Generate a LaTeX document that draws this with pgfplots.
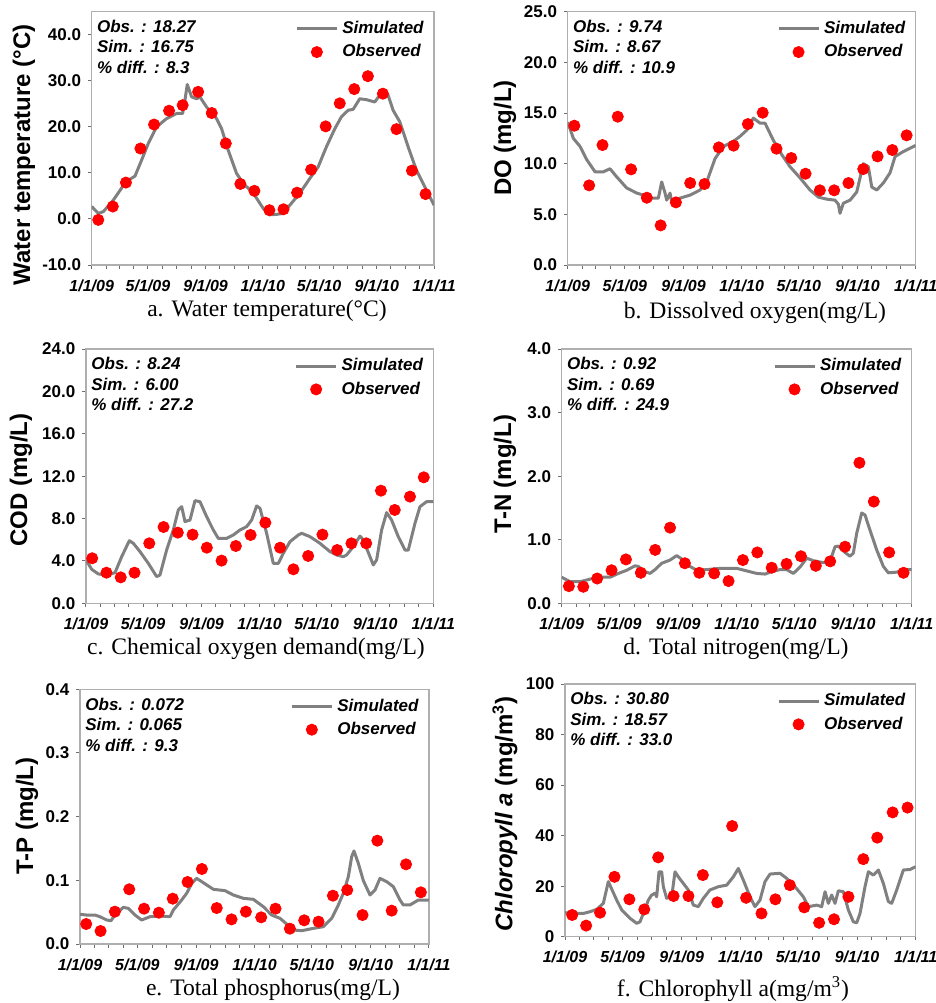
\documentclass[border=0pt]{standalone}
\usepackage{fontspec}
\setmainfont{Liberation Sans}
\newfontfamily\capfont{Liberation Serif}
\usepackage{pgfplots}
\pgfplotsset{compat=1.18}
\definecolor{simgray}{RGB}{128,128,128}
\definecolor{obsred}{RGB}{255,0,0}
\definecolor{framegray}{RGB}{175,175,175}
\definecolor{tickgray}{RGB}{110,110,110}

\tikzset{stats/.style={anchor=north west, align=left, inner sep=0pt,
    font=\fontsize{8.5}{10.25}\selectfont\bfseries\itshape, xshift=2.5pt, yshift=-4pt}}
\pgfplotsset{
  panel/.style={
    scale only axis, anchor=south west,
    xmin=0, xmax=730,
    xtick={0,120,243,365,485,608,730},
    xticklabels={1/1/09,5/1/09,9/1/09,1/1/10,5/1/10,9/1/10,1/1/11},
    minor xtick={31,59,90,151,181,212,273,304,334,396,424,455,516,546,577,638,669,699},
    tick align=outside, tick pos=left,
    major tick length=1.8pt, minor tick length=1.8pt,
    every tick/.append style={tickgray, line width=0.5pt},
    axis line style={framegray, line width=0.6pt},
    xticklabel style={font=\fontsize{8}{9.5}\selectfont\bfseries\itshape, yshift=-2pt},
    yticklabel style={font=\fontsize{8.5}{10}\selectfont\bfseries},
    legend style={draw=none, fill=none, at={(1,1)}, anchor=north east,
      xshift=-2pt, yshift=-1.5pt,
      font=\fontsize{8.5}{10}\selectfont\bfseries\itshape,
      row sep=0pt, inner sep=1pt},
    legend cell align=left,
  },
  sim/.style={simgray, line width=1.5pt, no marks, line join=round,
    legend image code/.code={\draw[##1] (0pt,0pt) -- (20pt,0pt);}},
  obs/.style={only marks, mark=*, mark size=2.8pt,
    mark options={fill=obsred, draw=obsred}, color=obsred,
    legend image code/.code={\draw[mark repeat=2,mark phase=2,##1] plot coordinates {(0pt,0pt)(10pt,0pt)(20pt,0pt)};}},
}

\begin{document}
\begin{tikzpicture}
\useasboundingbox (0pt,0pt) rectangle (468pt,-501.5pt);

% ---------- a ----------
\begin{axis}[panel, at={(45.85pt,-132.5pt)}, width=171.15pt, height=126.65pt,
  ymin=-10, ymax=45, ytick={-10,0,10,20,30,40},
  yticklabels={-10.0,0.0,10.0,20.0,30.0,40.0}]
\addplot[sim] coordinates {(0,2.7)(14.2,1.2)(24.9,1.6)(46.2,4.1)(73.2,8.1)(92.3,9.3)(106.5,12.8)(120.7,16.4)(138.5,20.0)(159.8,21.8)(181.1,22.9)(193.9,22.9)(198.9,25.8)(203.8,29.2)(213.1,26.5)(223.7,26.1)(230.8,26.5)(245.0,24.3)(266.3,21.8)(277.0,19.6)(291.2,14.9)(308.9,9.9)(323.2,7.7)(344.5,5.6)(365.8,2.3)(378.6,0.9)(394.2,1.0)(408.4,1.2)(422.6,3.0)(443.9,5.6)(465.2,8.8)(482.9,11.3)(500.7,15.7)(518.5,19.6)(532.7,22.2)(546.9,23.6)(557.5,23.8)(571.7,26.1)(585.9,25.9)(603.7,25.4)(614.3,26.9)(632.1,26.9)(642.8,23.6)(657.0,21.1)(674.7,15.7)(692.5,10.6)(713.8,6.3)(730,3.0)};
\addlegendentry{Simulated}
\addplot[obs] coordinates {(14,-0.2)(45,2.7)(73,7.9)(104,15.3)(133,20.5)(165,23.5)(194,24.7)(227,27.6)(256,23.0)(286,16.4)(317,7.6)(347,6.1)(379,1.9)(409,2.1)(438,5.7)(468,10.7)(499,20.1)(529,25.1)(560,28.2)(589,31.0)(621,27.2)(650,19.5)(683,10.5)(712,5.4)};
\addlegendentry{Observed}
\node[stats] at (rel axis cs:0,1) {Obs. : 18.27\\Sim. : 16.75\\\% diff. : 8.3};
\end{axis}

% ---------- b ----------
\begin{axis}[panel, at={(283.85pt,-132.5pt)}, width=174pt, height=126.65pt,
  ymin=0, ymax=25, ytick={0,5,10,15,20,25},
  yticklabels={0.0,5.0,10.0,15.0,20.0,25.0}]
\addplot[sim] coordinates {(0,14.1)(11.9,12.5)(25.9,11.7)(39.9,10.4)(57.3,9.2)(74.8,9.2)(88.8,9.5)(102.8,8.7)(123.8,7.6)(144.8,7.1)(158.7,6.9)(172.7,6.6)(190.2,6.6)(197.2,8.2)(204.2,7.1)(207.7,6.4)(214.7,7.1)(218.2,6.25)(235.7,6.6)(256.6,6.9)(277.6,7.4)(291.6,8.2)(309.1,10.5)(326.6,11.7)(347.6,12.2)(361.5,12.7)(375.5,13.3)(389.5,14.5)(403.5,14.0)(414.0,14.0)(431.5,12.3)(449.0,10.9)(466.4,9.7)(487.4,8.6)(508.4,7.4)(525.9,6.7)(543.4,6.5)(560.8,6.4)(567.8,6.0)(571.3,5.1)(578.3,6.1)(592.3,6.4)(606.3,7.2)(620.3,10.0)(630.8,9.7)(637.8,7.7)(648.3,7.4)(662.2,8.1)(676.2,9.1)(686.7,10.7)(704.2,11.2)(730,11.8)};
\addlegendentry{Simulated}
\addplot[obs] coordinates {(14,13.75)(45,7.86)(73,11.84)(105,14.64)(133,9.44)(166,6.64)(195,3.91)(227,6.18)(257,8.09)(287,7.99)(317,11.61)(348,11.78)(378,13.91)(409,15.03)(438,11.48)(469,10.56)(499,9.01)(529,7.37)(559,7.37)(589,8.09)(620,9.47)(650,10.72)(681,11.35)(711,12.80)};
\addlegendentry{Observed}
\node[stats] at (rel axis cs:0,1) {Obs. : 9.74\\Sim. : 8.67\\\% diff. : 10.9};
\end{axis}

% ---------- c ----------
\begin{axis}[panel, at={(43pt,-301.65pt)}, width=173.65pt, height=127.15pt,
  ymin=0, ymax=24, ytick={0,4,8,12,16,20,24},
  yticklabels={0.0,4.0,8.0,12.0,16.0,20.0,24.0}]
\addplot[sim] coordinates {(0,4.09)(11.9,3.21)(25.9,2.77)(43.4,2.67)(61.0,2.89)(75.0,4.40)(91.1,5.91)(99.5,5.66)(113.5,4.88)(131.0,3.77)(148.5,2.52)(155.5,2.67)(169.5,5.03)(183.5,6.92)(194.1,8.81)(201.1,9.12)(208.1,7.71)(218.6,7.86)(229.1,9.69)(239.6,9.59)(253.6,8.18)(267.6,6.92)(278.1,6.13)(295.6,6.13)(309.7,6.45)(323.7,6.92)(337.7,7.24)(348.2,7.86)(358.7,9.19)(365.7,8.97)(379.7,6.61)(393.7,3.77)(404.2,3.77)(414.7,4.72)(428.8,5.82)(446.3,6.45)(453.3,6.61)(470.8,6.29)(491.8,5.66)(512.8,4.88)(526.8,4.56)(540.8,4.40)(547.8,4.56)(561.9,5.35)(575.9,6.35)(582.9,5.98)(596.9,4.40)(603.9,3.62)(610.9,4.09)(621.4,6.92)(631.9,8.56)(642.4,7.86)(656.4,6.29)(670.5,5.03)(677.5,5.03)(691.5,7.55)(702.0,9.12)(716.0,9.59)(730,9.59)};
\addlegendentry{Simulated}
\addplot[obs] coordinates {(13,4.25)(43,2.89)(73,2.45)(102,2.89)(133,5.66)(163,7.20)(193,6.67)(224,6.48)(254,5.25)(285,4.03)(315,5.41)(346,6.45)(377,7.61)(408,5.25)(436,3.21)(467,4.47)(497,6.48)(528,5.03)(558,5.66)(589,5.66)(620,10.63)(649,8.81)(681,10.07)(710,11.89)};
\addlegendentry{Observed}
\node[stats] at (rel axis cs:0,1) {Obs. : 8.24\\Sim. : 6.00\\\% diff. : 27.2};
\end{axis}

% ---------- d ----------
\begin{axis}[panel, at={(280.85pt,-301.65pt)}, width=175pt, height=127.15pt,
  ymin=0, ymax=4, ytick={0,1,2,3,4},
  yticklabels={0.0,1.0,2.0,3.0,4.0}]
\addplot[sim] coordinates {(0,0.41)(17.4,0.34)(38.2,0.34)(59.1,0.38)(80.0,0.41)(100.8,0.41)(118.2,0.47)(135.6,0.52)(153.0,0.59)(159.9,0.58)(170.3,0.51)(184.2,0.47)(194.7,0.53)(208.6,0.63)(225.9,0.68)(239.8,0.75)(253.8,0.68)(267.7,0.58)(281.6,0.52)(302.4,0.53)(330.2,0.55)(365.0,0.55)(385.8,0.51)(406.7,0.47)(424.1,0.46)(438.0,0.50)(455.4,0.53)(469.3,0.53)(483.2,0.47)(497.1,0.57)(511.0,0.71)(524.9,0.67)(545.7,0.64)(559.7,0.66)(570.1,0.89)(577.0,0.90)(590.9,0.80)(601.4,0.74)(608.3,0.79)(615.3,1.10)(625.7,1.42)(632.6,1.39)(643.1,1.15)(657.0,0.84)(670.9,0.58)(681.3,0.48)(698.7,0.49)(712.6,0.53)(730,0.53)};
\addlegendentry{Simulated}
\addplot[obs] coordinates {(15,0.27)(45,0.26)(74,0.39)(104,0.52)(134,0.69)(165,0.48)(195,0.84)(226,1.19)(257,0.63)(287,0.48)(318,0.47)(348,0.35)(378,0.68)(408,0.80)(438,0.56)(469,0.62)(499,0.74)(530,0.59)(560,0.66)(591,0.89)(621,2.21)(651,1.60)(683,0.80)(713,0.48)};
\addlegendentry{Observed}
\node[stats] at (rel axis cs:0,1) {Obs. : 0.92\\Sim. : 0.69\\\% diff. : 24.9};
\end{axis}

% ---------- e ----------
\begin{axis}[panel, at={(40pt,-472pt)}, width=174.5pt, height=127.35pt,
  ymin=0, ymax=0.4, ytick={0,0.1,0.2,0.3,0.4},
  yticklabels={0.0,0.1,0.2,0.3,0.4}]
\addplot[sim] coordinates {(0,0.0466)(13.9,0.0455)(31.4,0.0455)(41.8,0.0429)(55.8,0.0377)(64.8,0.0366)(73.2,0.0455)(90.6,0.0576)(101.1,0.0560)(115.0,0.0455)(129.0,0.0377)(146.4,0.0429)(167.3,0.0440)(188.3,0.0429)(195.2,0.0534)(212.7,0.0691)(223.1,0.0796)(233.6,0.0953)(244.0,0.1031)(258.0,0.0963)(278.9,0.0859)(303.3,0.0838)(320.7,0.0770)(341.7,0.0717)(362.6,0.0702)(383.5,0.0586)(400.9,0.0455)(418.4,0.0403)(432.3,0.0314)(446.2,0.0220)(463.7,0.0209)(488.1,0.0246)(509.0,0.0272)(526.4,0.0403)(540.4,0.0613)(550.8,0.0796)(561.3,0.1058)(568.3,0.1372)(573.1,0.1461)(582.2,0.1267)(592.7,0.0995)(606.6,0.0770)(617.1,0.0848)(627.5,0.1031)(641.5,0.0979)(655.4,0.0901)(669.4,0.0691)(676.3,0.0613)(690.3,0.0613)(707.7,0.0691)(730,0.0691)};
\addlegendentry{Simulated}
\addplot[obs] coordinates {(13,0.0314)(43,0.0204)(73,0.0508)(103,0.0859)(134,0.0555)(165,0.0492)(194,0.0712)(225,0.0974)(255,0.1178)(286,0.0565)(317,0.0387)(347,0.0508)(379,0.0419)(409,0.0555)(439,0.0241)(469,0.0372)(499,0.0351)(529,0.0759)(559,0.0848)(591,0.0455)(622,0.1623)(652,0.0524)(682,0.1251)(713,0.0812)};
\addlegendentry{Observed}
\node[stats] at (rel axis cs:0,1) {Obs. : 0.072\\Sim. : 0.065\\\% diff. : 9.3};
\end{axis}

% ---------- f ----------
\begin{axis}[panel, at={(282.5pt,-468.35pt)}, width=175.35pt, height=126.35pt,
  ymin=0, ymax=100, ytick={0,20,40,60,80,100},
  yticklabels={0,20,40,60,80,100}]
\addplot[sim] coordinates {(0,9.5)(17.3,9.2)(38.2,9.2)(52.0,9.9)(65.9,10.8)(79.8,13.2)(90.2,21.8)(107.6,14.5)(118.0,10.6)(135.3,7.3)(149.2,5.3)(156.1,5.9)(163.1,9.2)(173.5,14.5)(180.4,16.5)(187.4,17.2)(190.8,15.8)(195.7,25.7)(201.2,25.7)(204.7,19.8)(211.6,15.2)(222.1,15.8)(229.0,25.7)(235.9,23.7)(246.3,21.1)(256.7,18.5)(267.2,12.5)(277.6,11.9)(288.0,15.2)(301.8,18.5)(319.2,19.8)(336.5,20.4)(350.4,23.7)(360.8,27.0)(371.2,22.4)(385.1,15.8)(395.5,11.9)(405.9,14.5)(416.3,21.8)(426.8,24.8)(447.6,25.1)(461.5,23.1)(478.8,19.8)(496.1,15.8)(506.6,11.9)(523.9,12.5)(534.3,11.9)(541.3,17.8)(548.2,13.2)(555.1,16.5)(562.1,13.2)(569.0,18.2)(579.4,17.8)(589.8,10.6)(600.2,5.9)(607.2,5.5)(614.1,9.2)(624.5,19.8)(631.5,25.7)(641.9,24.4)(652.3,26.4)(662.7,21.1)(673.1,13.9)(680.0,13.2)(690.5,18.5)(704.3,26.4)(718.2,26.6)(730,27.7)};
\addlegendentry{Simulated}
\addplot[obs] coordinates {(15,8.6)(44,4.4)(73,9.5)(103,23.7)(134,14.8)(165,10.8)(194,31.4)(226,16.1)(257,16.1)(287,24.4)(317,13.6)(348,43.8)(377,15.4)(409,9.2)(438,14.8)(468,20.4)(498,11.6)(529,5.5)(560,6.9)(590,15.8)(621,30.7)(650,39.2)(682,49.2)(713,51.1)};
\addlegendentry{Observed}
\node[stats] at (rel axis cs:0,1) {Obs. : 30.80\\Sim. : 18.57\\\% diff. : 33.0};
\end{axis}

% ---------- y labels ----------
\begin{scope}[every node/.style={rotate=90, font=\fontsize{12}{14}\selectfont\bfseries, inner sep=0pt}]
\node at (12pt,-77.5pt) {Water temperature (°C)};
\node at (252.5pt,-69pt) {DO (mg/L)};
\node at (10.5pt,-240pt) {COD (mg/L)};
\node at (252.5pt,-237pt) {T-N (mg/L)};
\node at (13.5pt,-408pt) {T-P (mg/L)};
\node at (252.5pt,-407pt) {\textit{Chloropyll a} (mg/m\textsuperscript{3})};
\end{scope}

% ---------- captions ----------
\begin{scope}[every node/.style={font=\capfont\fontsize{11.8}{14}\selectfont, inner sep=0pt}]
\node at (133.5pt,-155.5pt) {a. Water temperature(°C)};
\node at (377.5pt,-156.5pt) {b. Dissolved oxygen(mg/L)};
\node at (128pt,-324.5pt) {c. Chemical oxygen demand(mg/L)};
\node at (368pt,-324.5pt) {d. Total nitrogen(mg/L)};
\node at (136.5pt,-495pt) {e. Total phosphorus(mg/L)};
\node at (366.5pt,-494.5pt) {f. Chlorophyll a(mg/m\textsuperscript{3})};
\end{scope}
\end{tikzpicture}
\end{document}
